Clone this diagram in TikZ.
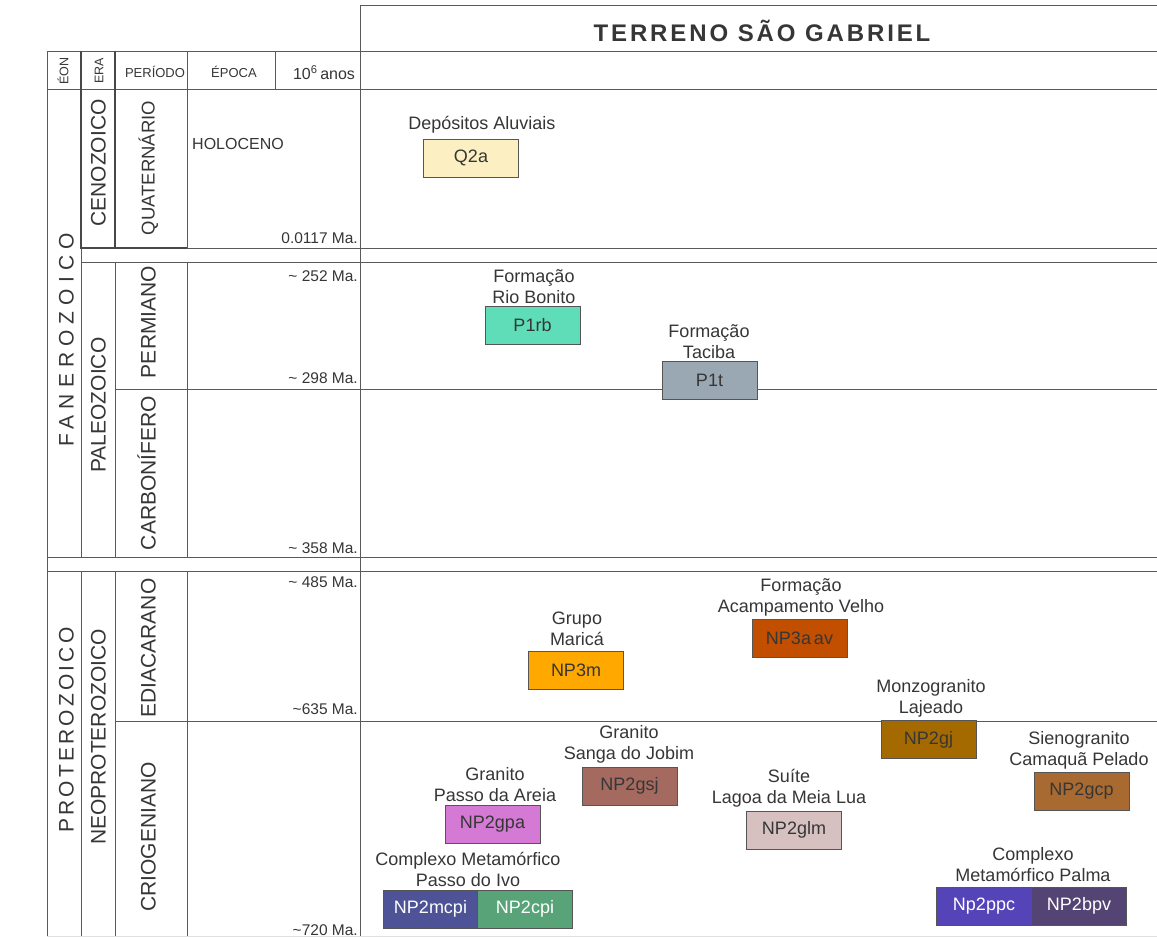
\documentclass[tikz,border=0pt]{standalone}
\usepackage{fontspec}
\setmainfont{Liberation Sans}
\newfontfamily\spacedA[LetterSpace=29]{Liberation Sans}
\newfontfamily\spacedB[LetterSpace=15]{Liberation Sans}
\newfontfamily\spacedT[LetterSpace=12]{Liberation Sans}
\definecolor{linec}{HTML}{5A5A5A}
\definecolor{txt}{HTML}{363636}
\definecolor{boxline}{HTML}{555555}
\definecolor{cQ}{HTML}{FCF0C2}
\definecolor{cRB}{HTML}{5EDDB8}
\definecolor{cT}{HTML}{99A8B2}
\definecolor{cM}{HTML}{FFA800}
\definecolor{cAV}{HTML}{C24E00}
\definecolor{cGJ}{HTML}{A46A00}
\definecolor{cSJ}{HTML}{A46A60}
\definecolor{cPA}{HTML}{D47AD4}
\definecolor{cLM}{HTML}{D6C0C0}
\definecolor{cCP}{HTML}{A86A30}
\definecolor{cMCPI}{HTML}{4E5296}
\definecolor{cCPI}{HTML}{58A478}
\definecolor{cPPC}{HTML}{5544B8}
\definecolor{cBPV}{HTML}{544474}
\tikzset{
  grid/.style={draw=linec, line width=0.8pt},
  gridthick/.style={draw=linec!80!black, line width=1.4pt},
  unit/.style={draw=boxline, line width=0.9pt, minimum width=95pt, minimum height=38pt,
    inner sep=0pt, font=\fontsize{18}{21}\selectfont, text=txt},
  lbl/.style={align=center, font=\fontsize{18}{21}\selectfont, text=txt, inner sep=0pt},
  vlab/.style={rotate=90, font=\fontsize{21}{21}\selectfont, text=txt, inner sep=0pt,
    text height=15pt, text depth=0pt},
  ma/.style={anchor=east, font=\fontsize{15.5}{16}\selectfont, text=txt, inner sep=0pt},
  hdr/.style={font=\fontsize{13}{14}\selectfont, text=txt, inner sep=0pt},
}
\begin{document}
\begin{tikzpicture}[x=1pt,y=-1pt]
\useasboundingbox (0,0) rectangle (1157,937);
\fill[white] (0,0) rectangle (1157,937);
% ---- right header
\draw[grid] (360,5) -- (1157,5);
\draw[grid] (47,51) -- (1157,51);
\draw[grid] (47,89) -- (1157,89);
% ---- vertical lines
\draw[grid] (47,51) -- (47,937);
\draw[grid] (81,51) -- (81,557);
\draw[grid] (81,571) -- (81,937);
\draw[grid] (115,262) -- (115,557);
\draw[grid] (115,571) -- (115,937);
\draw[grid] (187,51) -- (187,248);
\draw[grid] (187,262) -- (187,557);
\draw[grid] (187,571) -- (187,937);
\draw[grid] (275,51) -- (275,89);
\draw[grid] (360,5) -- (360,937);
% ---- horizontal lines
\draw[grid] (81,248) -- (1157,248);
\draw[grid] (81,262) -- (1157,262);
\draw[grid] (115,389) -- (1157,389);
\draw[grid] (47,557) -- (1157,557);
\draw[grid] (47,571) -- (1157,571);
\draw[grid] (115,721) -- (1157,721);
\draw[draw=black!12, line width=0.8pt] (47,936) -- (1157,936);
% ---- thicker cenozoic era cell
\draw[gridthick] (81,51) -- (81,248) -- (187,248);
\draw[gridthick] (115,51) -- (115,248);
% ---- title
\node[font=\spacedT\bfseries\fontsize{24}{26}\selectfont, text=txt, inner sep=0pt] (title) at (762,31) {TERRENO S\~AO GABRIEL};
% ---- column headers
\node[hdr, rotate=90, font=\fontsize{12.5}{13}\selectfont] (heon) at (63,71) {ÉON};
\node[hdr, rotate=90, font=\fontsize{12.5}{13}\selectfont] (hera) at (99,71) {ERA};
\node[hdr] (hper) at (155,72) {PERÍODO};
\node[hdr] (hepo) at (234,72) {ÉPOCA};
\node[hdr, font=\fontsize{16}{17}\selectfont] (hanos) at (324,73) {10\textsuperscript{6}\,anos};
% ---- time-scale names
\node[vlab, font=\spacedA\fontsize{21}{21}\selectfont] (fan) at (66,340) {FANEROZOICO};
\node[vlab, font=\spacedB\fontsize{21}{21}\selectfont] (pro) at (66,730) {PROTEROZOICO};
\node[vlab] (ceno) at (98,163) {CENOZOICO};
\node[vlab] (paleo) at (98,405) {PALEOZOICO};
\node[vlab] (neo) at (98,737) {NEOPROTEROZOICO};
\node[vlab, font=\fontsize{18.5}{19}\selectfont, text height=13.3pt] (quat) at (148,168) {QUATERNÁRIO};
\node[vlab] (perm) at (148,322) {PERMIANO};
\node[vlab] (carb) at (148,473) {CARBONÍFERO};
\node[vlab] (edia) at (148,648) {EDIACARANO};
\node[vlab] (crio) at (148,837) {CRIOGENIANO};
\node[hdr, font=\fontsize{16}{17}\selectfont] (holo) at (238,144) {HOLOCENO};
% ---- ages
\node[ma] (a1) at (358,238) {0.0117 Ma.};
\node[ma] (a2) at (358,276) {\textasciitilde\ 252 Ma.};
\node[ma] (a3) at (358,378) {\textasciitilde\ 298 Ma.};
\node[ma] (a4) at (358,548) {\textasciitilde\ 358 Ma.};
\node[ma] (a5) at (358,582) {\textasciitilde\ 485 Ma.};
\node[ma] (a6) at (358,709) {\textasciitilde635 Ma.};
\node[ma] (a7) at (358,930) {\textasciitilde720 Ma.};
% ---- units
\node[unit, fill=cQ] (Q2a) at (471,158) {Q2a};
\node[lbl] (lQ) at (482,125) {Depósitos Aluviais};
\node[unit, fill=cRB] (P1rb) at (532.5,325.5) {P1rb};
\node[lbl] (lRB) at (534,287) {Formação\\Rio Bonito};
\node[unit, fill=cT] (P1t) at (709.5,380.5) {P1t};
\node[lbl] (lT) at (709,341.5) {Formação\\Taciba};
\node[unit, fill=cM] (NP3m) at (576,670) {NP3m};
\node[lbl] (lM) at (577,629) {Grupo\\Maricá};
\node[unit, fill=cAV] (NP3aav) at (799.5,638) {NP3a\,av};
\node[lbl] (lAV) at (801,597) {Formação\\Acampamento Velho};
\node[unit, fill=cGJ] (NP2gj) at (928.5,739.5) {NP2gj};
\node[lbl] (lGJ) at (931,698.5) {Monzogranito\\Lajeado};
\node[unit, fill=cSJ] (NP2gsj) at (629.5,786) {NP2gsj};
\node[lbl] (lSJ) at (629,744) {Granito\\Sanga do Jobim};
\node[unit, fill=cPA] (NP2gpa) at (492.5,824) {NP2gpa};
\node[lbl] (lPA) at (495,784.5) {Granito\\Passo da Areia};
\node[unit, fill=cLM] (NP2glm) at (794,830) {NP2glm};
\node[lbl] (lLM) at (789,788) {Suíte\\Lagoa da Meia Lua};
\node[unit, fill=cCP] (NP2gcp) at (1081.5,791) {NP2gcp};
\node[lbl] (lCP) at (1079,750) {Sienogranito\\Camaquã Pelado};
\node[unit, fill=cMCPI, text=white] (NP2mcpi) at (430.5,909) {NP2mcpi};
\node[unit, fill=cCPI, text=white] (NP2cpi) at (525,909) {NP2cpi};
\node[lbl] (lPI) at (468,869) {Complexo Metamórfico\\Passo do Ivo};
\node[unit, fill=cPPC, text=white] (Np2ppc) at (984,906) {Np2ppc};
\node[unit, fill=cBPV, text=white] (NP2bpv) at (1079,906) {NP2bpv};
\node[lbl] (lPP) at (1033,864.5) {Complexo\\Metamórfico Palma};
\end{tikzpicture}
\end{document}
